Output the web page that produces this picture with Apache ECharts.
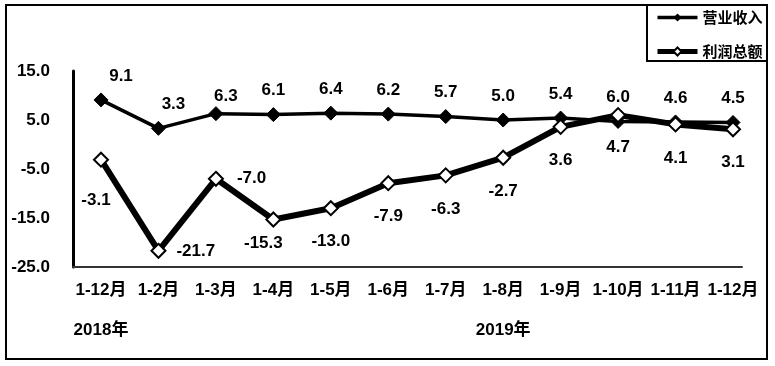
<!DOCTYPE html>
<html>
<head>
<meta charset="utf-8">
<script src="https://cdn.jsdelivr.net/npm/echarts@6/dist/echarts.min.js"></script>
<style>
html,body{margin:0;padding:0;background:#fff;}
#chart{width:775px;height:366px;}
</style>
</head>
<body>
<div id="chart"></div>
<script>
const categories = ['1-12月','1-2月','1-3月','1-4月','1-5月','1-6月','1-7月','1-8月','1-9月','1-10月','1-11月','1-12月'];
const yearLabels = ['2018年','','','','','','','2019年','','','',''];
const revenue = [9.1, 3.3, 6.3, 6.1, 6.4, 6.2, 5.7, 5.0, 5.4, 4.7, 4.6, 4.5];
const profit = [-3.1, -21.7, -7.0, -15.3, -13.0, -7.9, -6.3, -2.7, 3.6, 6.0, 4.1, 3.1];
const seriesNames = ['营业收入', '利润总额'];
const yTicks = { min: -25, max: 15, interval: 10 };

const FONT = "'Liberation Sans', 'Noto Sans CJK SC', sans-serif";

// label placement tweaks (styling only, kept apart from the data)
const revenueLabelTweaks = {
  0: { offset: [20, 0] },
  1: { offset: [15, 0] },
  2: { offset: [10, 7] },
  9: { position: 'bottom', distance: 10 }
};
const profitLabelTweaks = {
  0: { distance: 24, offset: [-5, 0] },
  1: { position: 'right', distance: 10 },
  2: { position: 'right', distance: 13 },
  3: { distance: 7, offset: [-10, 0] },
  9: { position: 'top', distance: 1 }
};

function build(values, tweaks) {
  return values.map((v, i) => tweaks[i] ? { value: v, label: tweaks[i] } : v);
}

const chart = echarts.init(document.getElementById('chart'), null, { renderer: 'canvas' });
const labelBase = { show: true, color: '#000', fontFamily: FONT, fontWeight: 'bold', fontSize: 17, formatter: p => p.value.toFixed(1) };

chart.setOption({
  animation: false,
  backgroundColor: '#fff',
  textStyle: { fontFamily: FONT },
  grid: [
    { left: 73, right: 33, top: 71, bottom: 99 },
    { left: 101, right: 42, top: 71, bottom: 99 }
  ],
  xAxis: [
    { gridIndex: 0, type: 'value', min: 0, max: 1, axisLine: { show: true, onZero: false, lineStyle: { color: '#333', width: 2 } }, axisTick: { show: false }, axisLabel: { show: false }, splitLine: { show: false } },
    { gridIndex: 1, type: 'category', data: categories, boundaryGap: false, axisLine: { show: false }, axisTick: { show: false }, splitLine: { show: false },
      axisLabel: { margin: 15, color: '#000', fontFamily: FONT, fontWeight: 'bold', fontSize: 17, interval: 0 } },
    { gridIndex: 1, type: 'category', data: yearLabels, boundaryGap: false, position: 'bottom', offset: 40, axisLine: { show: false }, axisTick: { show: false }, splitLine: { show: false },
      axisLabel: { margin: 15, color: '#000', fontFamily: FONT, fontWeight: 'bold', fontSize: 17, interval: 0 } }
  ],
  yAxis: [
    { gridIndex: 0, type: 'value', min: yTicks.min, max: yTicks.max, interval: yTicks.interval,
      axisLine: { show: true, lineStyle: { color: '#000', width: 3 } }, axisTick: { show: false }, splitLine: { show: false },
      axisLabel: { margin: 23, color: '#000', fontFamily: FONT, fontWeight: 'bold', fontSize: 17, formatter: v => v.toFixed(1) } },
    { gridIndex: 1, type: 'value', min: yTicks.min, max: yTicks.max, interval: yTicks.interval, show: false }
  ],
  legend: {
    orient: 'vertical', left: 655, top: 10, padding: 0, itemWidth: 40, itemHeight: 10, itemGap: 19,
    textStyle: { color: '#000', fontFamily: "'Noto Sans CJK SC', sans-serif", fontWeight: 'bold', fontSize: 15 },
    data: [
      { name: seriesNames[0], lineStyle: { width: 3.5 } },
      { name: seriesNames[1], lineStyle: { width: 5 } }
    ]
  },
  graphic: [
    { type: 'rect', shape: { x: 6, y: 5, width: 761, height: 354 }, style: { fill: 'none', stroke: '#000', lineWidth: 2 }, z: 100 },
    { type: 'rect', shape: { x: 647, y: 5, width: 120, height: 56 }, style: { fill: 'none', stroke: '#000', lineWidth: 2 }, z: 100 }
  ],
  series: [
    { name: seriesNames[0], type: 'line', xAxisIndex: 1, yAxisIndex: 1, data: build(revenue, revenueLabelTweaks),
      symbol: 'diamond', symbolSize: 14, showAllSymbol: true,
      lineStyle: { color: '#000', width: 3.5 }, itemStyle: { color: '#000', borderColor: '#000' },
      label: Object.assign({}, labelBase, { position: 'top', distance: 8 }), z: 2 },
    { name: seriesNames[1], type: 'line', xAxisIndex: 1, yAxisIndex: 1, data: build(profit, profitLabelTweaks),
      symbol: 'diamond', symbolSize: 14, showAllSymbol: true,
      lineStyle: { color: '#000', width: 6 }, itemStyle: { color: '#fff', borderColor: '#000', borderWidth: 2 },
      label: Object.assign({}, labelBase, { position: 'bottom', distance: 17 }), z: 3 }
  ]
});
</script>
</body>
</html>
